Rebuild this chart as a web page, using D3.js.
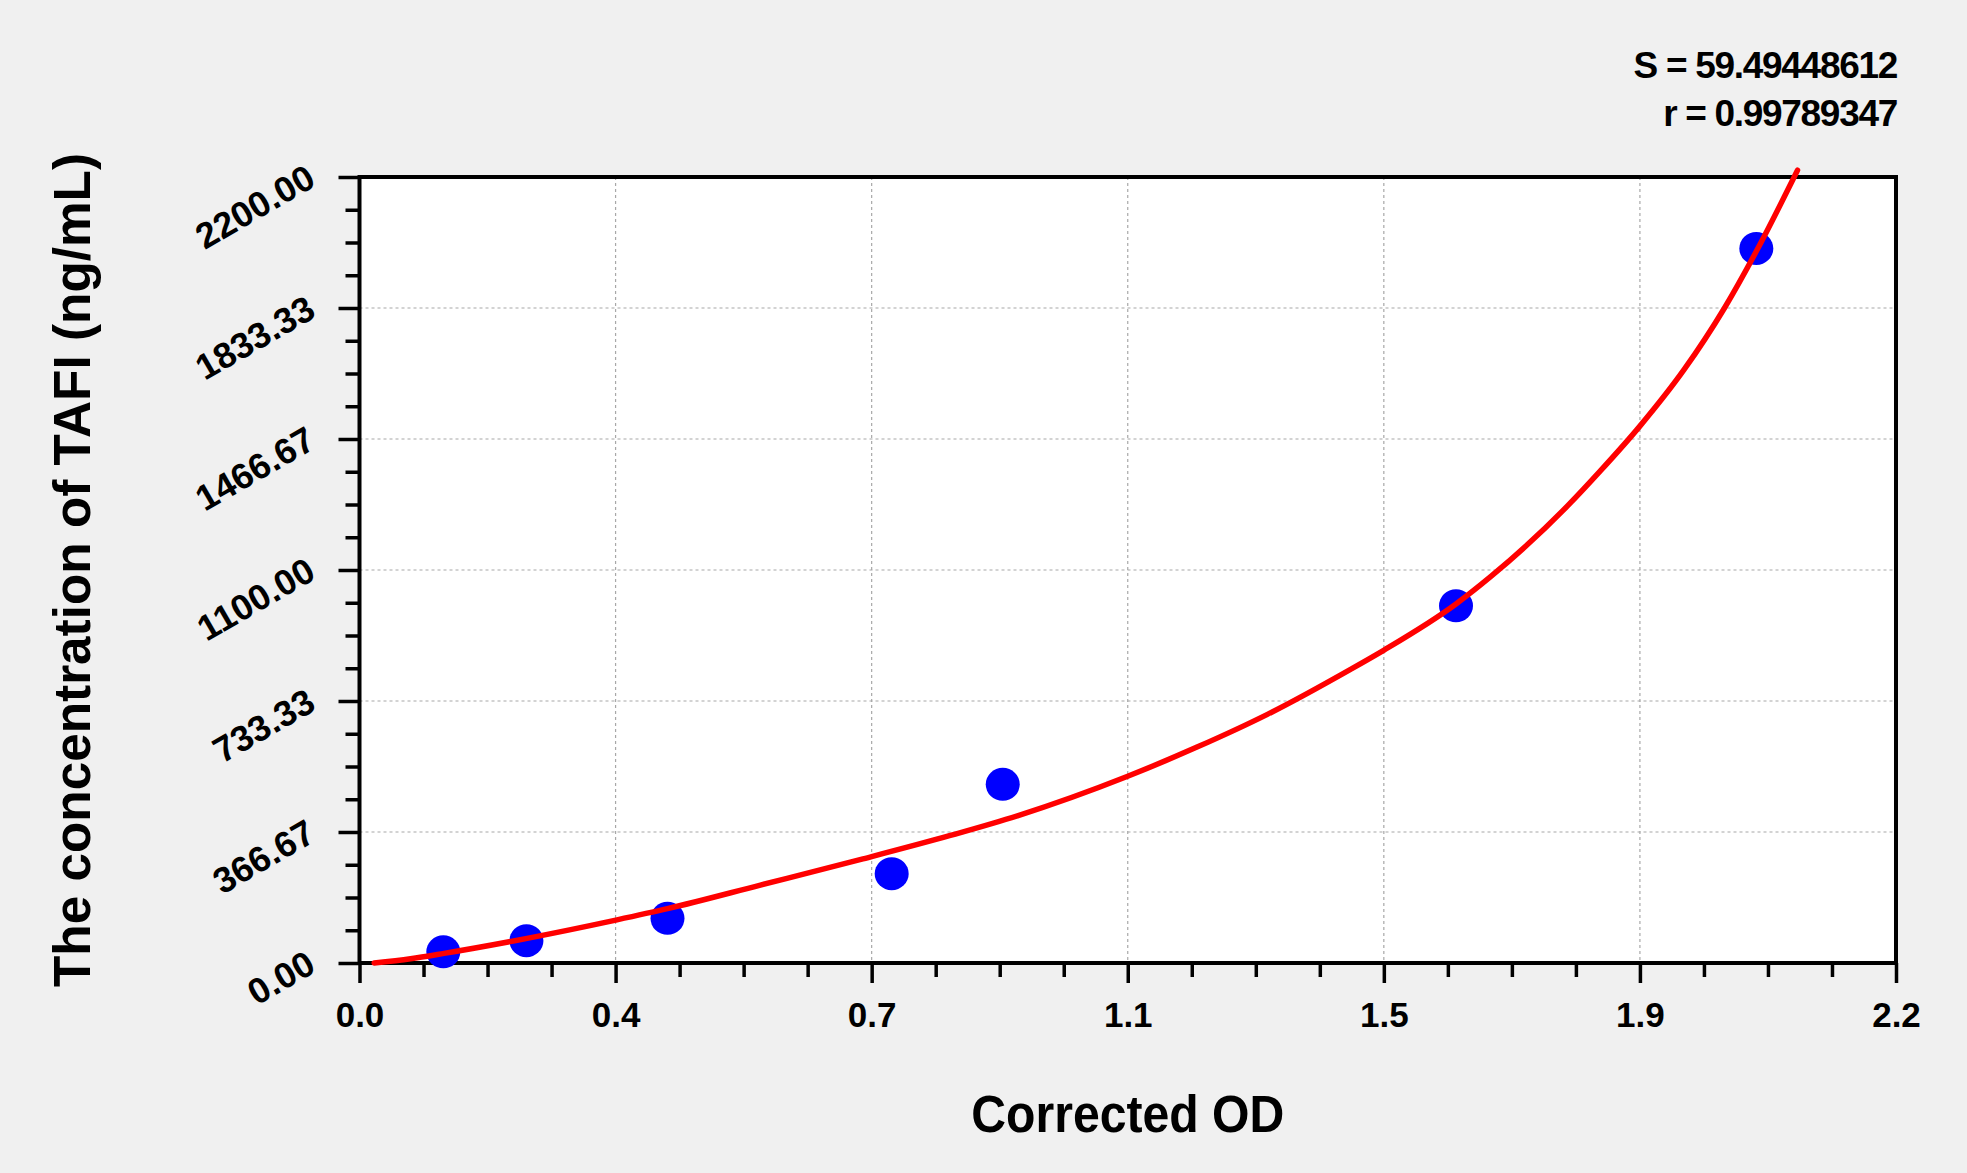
<!DOCTYPE html>
<html>
<head>
<meta charset="utf-8">
<script src="https://cdn.jsdelivr.net/npm/d3@7"></script>
<style>
  html, body { margin: 0; padding: 0; background: #f0f0f0; }
  svg { display: block; font-family: "Liberation Sans", Arial, sans-serif; font-weight: bold; }
</style>
</head>
<body>
<div id="chart"></div>
<script>
// standard points (corrected OD vs concentration)
var stdOD = [0.120, 0.239, 0.441, 0.762, 0.921, 1.570, 2.000];
var stdConc = [31.25, 62.5, 125, 250, 500, 1000, 2000];

// fitted curve
var fitOD = [0.021, 0.073, 0.121, 0.240, 0.367, 0.441, 0.574, 0.718, 0.846, 0.942, 1.099, 1.200,
             1.300, 1.419, 1.467, 1.570, 1.620, 1.730, 1.777, 1.833, 1.897, 1.954, 2.000, 2.059];
var fitConc = [0, 12, 27, 69, 120, 152, 218, 290, 357, 412, 522, 605,
               696, 822, 876, 1005, 1082, 1280, 1378, 1502, 1662, 1832, 1992, 2219];

var xTickLabels = ["0.0", "0.4", "0.7", "1.1", "1.5", "1.9", "2.2"];
var yTickLabels = ["0.00", "366.67", "733.33", "1100.00", "1466.67", "1833.33", "2200.00"];
var statLines = ["S = 59.49448612", "r = 0.99789347"];

var width = 1967, height = 1173;
var plotL = 359.5, plotR = 1896, plotT = 177, plotB = 963;

var svg = d3.select('#chart')
  .append('svg')
  .attr('width', width)
  .attr('height', height);

var x = d3.scaleLinear().domain([0, 2.2]).range([plotL, plotR]);
var y = d3.scaleLinear().domain([0, 2200]).range([plotB, plotT]);

var xMajor = d3.range(7).map(function(i) { return i * 2.2 / 6; });
var yMajor = d3.range(7).map(function(i) { return i * 2200 / 6; });
var xMinor = d3.range(25).filter(function(i) { return i % 4; }).map(function(i) { return i * 2.2 / 24; });
var yMinor = d3.range(25).filter(function(i) { return i % 4; }).map(function(i) { return i * 2200 / 24; });

// plot area
svg.append('rect')
  .attr('x', plotL).attr('y', plotT)
  .attr('width', plotR - plotL).attr('height', plotB - plotT)
  .attr('fill', '#fff');

// grid
var grid = svg.append('g')
  .attr('stroke', '#a8a8a8')
  .attr('stroke-width', 1.2)
  .attr('stroke-dasharray', '3,3');
grid.selectAll('.vg').data(xMajor.slice(1, -1)).enter().append('line')
  .attr('x1', function(d) { return x(d); }).attr('x2', function(d) { return x(d); })
  .attr('y1', plotT).attr('y2', plotB);
grid.selectAll('.hg').data(yMajor.slice(1, -1)).enter().append('line')
  .attr('y1', function(d) { return y(d); }).attr('y2', function(d) { return y(d); })
  .attr('x1', plotL).attr('x2', plotR);

// axes
function styleAxis(g) {
  g.select('.domain').remove();
  g.selectAll('line').attr('stroke', '#000').attr('stroke-width', 3.5);
}

svg.append('g')
  .attr('transform', 'translate(0,' + plotB + ')')
  .call(d3.axisBottom(x).tickValues(xMinor).tickSize(14).tickFormat(''))
  .call(styleAxis);

svg.append('g')
  .attr('transform', 'translate(0,' + plotB + ')')
  .call(d3.axisBottom(x).tickValues(xMajor).tickSize(20)
    .tickFormat(function(d, i) { return xTickLabels[i]; }))
  .call(styleAxis)
  .call(function(g) {
    g.selectAll('text')
      .attr('y', 64).attr('dy', 0)
      .attr('fill', '#000')
      .style('font-size', '35px')
      .style('font-family', '"Liberation Sans", Arial, sans-serif')
      .style('font-weight', 'bold');
  });

svg.append('g')
  .attr('transform', 'translate(' + plotL + ',0)')
  .call(d3.axisLeft(y).tickValues(yMinor).tickSize(14).tickFormat(''))
  .call(styleAxis);

svg.append('g')
  .attr('transform', 'translate(' + plotL + ',0)')
  .call(d3.axisLeft(y).tickValues(yMajor).tickSize(21).tickFormat(''))
  .call(styleAxis);

// rotated y labels
svg.append('g').selectAll('text')
  .data(yMajor)
  .enter().append('text')
  .attr('transform', function(d) { return 'translate(' + (plotL - 42) + ',' + (y(d) + 8) + ') rotate(-30)'; })
  .attr('text-anchor', 'end')
  .style('font-size', '36px')
  .text(function(d, i) { return yTickLabels[i]; });

// frame
svg.append('rect')
  .attr('x', plotL).attr('y', plotT)
  .attr('width', plotR - plotL).attr('height', plotB - plotT)
  .attr('fill', 'none')
  .attr('stroke', '#000')
  .attr('stroke-width', 4);

// points
svg.append('g').selectAll('ellipse')
  .data(stdOD)
  .enter().append('ellipse')
  .attr('cx', function(d) { return x(d); })
  .attr('cy', function(d, i) { return y(stdConc[i]); })
  .attr('rx', 17).attr('ry', 16.5)
  .attr('fill', '#0000ff');

// fitted curve
var line = d3.line()
  .x(function(d) { return x(d); })
  .y(function(d, i) { return y(fitConc[i]); })
  .curve(d3.curveMonotoneX);

svg.append('path')
  .datum(fitOD)
  .attr('d', line)
  .attr('fill', 'none')
  .attr('stroke', '#ff0000')
  .attr('stroke-width', 5.5)
  .attr('stroke-linecap', 'round');

// titles
svg.append('text')
  .attr('x', (plotL + plotR) / 2).attr('y', 1132)
  .attr('text-anchor', 'middle')
  .attr('textLength', 313).attr('lengthAdjust', 'spacingAndGlyphs')
  .style('font-size', '51px')
  .text('Corrected OD');

svg.append('text')
  .attr('transform', 'translate(90,570) rotate(-90)')
  .attr('text-anchor', 'middle')
  .attr('textLength', 834).attr('lengthAdjust', 'spacingAndGlyphs')
  .style('font-size', '52px')
  .text('The concentration of TAFI (ng/mL)');

// fit statistics
svg.append('g').selectAll('text')
  .data(statLines)
  .enter().append('text')
  .attr('x', 1897)
  .attr('y', function(d, i) { return 78 + i * 48; })
  .attr('text-anchor', 'end')
  .style('font-size', '37px')
  .style('letter-spacing', '-1.3px')
  .text(function(d) { return d; });
</script>
</body>
</html>
